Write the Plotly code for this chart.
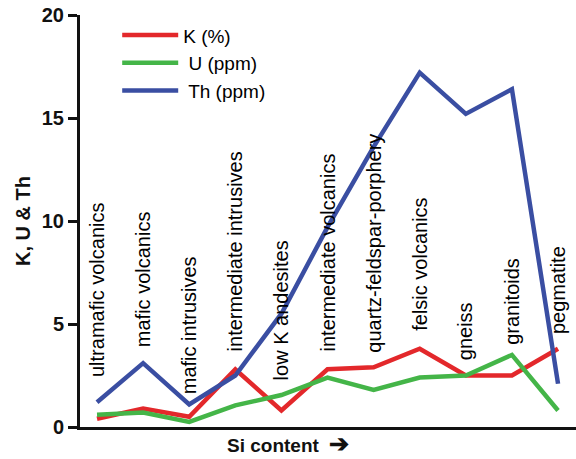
import plotly.graph_objects as go

categories = ["ultramafic volcanics", "mafic volcanics", "mafic intrusives",
              "intermediate intrusives", "low K andesites", "intermediate volcanics",
              "quartz-feldspar-porphery", "felsic volcanics", "gneiss",
              "granitoids", "pegmatite"]
k_pct = [0.4, 0.9, 0.5, 2.8, 0.8, 2.8, 2.9, 3.8, 2.5, 2.5, 3.8]
u_ppm = [0.6, 0.7, 0.25, 1.05, 1.55, 2.4, 1.8, 2.4, 2.5, 3.5, 0.8]
th_ppm = [1.2, 3.1, 1.1, 2.5, 5.5, 9.7, 13.6, 17.2, 15.2, 16.4, 2.1]
y_ticks = [0, 5, 10, 15, 20]

# label placement (centre of rotated label, in data units)
label_mid = [6.65, 7.18, 4.95, 8.54, 5.68, 8.45, 8.93, 7.91, 4.64, 6.12, 6.65]

xs = list(range(len(categories)))
FONT = "Liberation Sans, Arial, sans-serif"

fig = go.Figure()
fig.add_trace(go.Scatter(x=xs, y=k_pct, mode="lines", name="K (%)",
                         line=dict(color="#e3282b", width=4.5)))
fig.add_trace(go.Scatter(x=xs, y=u_ppm, mode="lines", name=" U (ppm)",
                         line=dict(color="#44b548", width=4.5)))
fig.add_trace(go.Scatter(x=xs, y=th_ppm, mode="lines", name=" Th (ppm)",
                         line=dict(color="#3a4ea2", width=4.5)))

for i, c in enumerate(categories):
    fig.add_annotation(x=xs[i], y=label_mid[i], text=c, textangle=-90,
                       showarrow=False, xanchor="center", yanchor="middle",
                       font=dict(family=FONT, size=20, color="#000000"))

fig.add_annotation(x=0.42, xref="paper", y=-0.039, yref="paper",
                   yanchor="middle", xanchor="center",
                   text="<b>Si content</b>  <b><span style='font-size:24px'>➔</span></b>",
                   showarrow=False,
                   font=dict(family=FONT, size=19, color="#111111"))

fig.update_layout(
    width=576, height=459,
    margin=dict(l=80, r=0, t=15, b=32),
    paper_bgcolor="white", plot_bgcolor="white",
    showlegend=True,
    legend=dict(x=0.075, y=0.997, xanchor="left", yanchor="top",
                font=dict(family=FONT, size=19, color="#000000"),
                bgcolor="rgba(0,0,0,0)", itemwidth=56, tracegroupgap=0),
    xaxis=dict(range=[-0.369, 10.39], showgrid=False, zeroline=False,
               showticklabels=False, ticks="", showline=True,
               linecolor="#111111", linewidth=3),
    yaxis=dict(range=[0, 20], tickvals=y_ticks,
               ticktext=[f"<b>{v}</b>" for v in y_ticks],
               showgrid=False, zeroline=False, showline=True,
               linecolor="#111111", linewidth=3, ticks="outside",
               ticklen=9, tickwidth=2.5, tickcolor="#111111",
               tickfont=dict(family=FONT, size=20, color="#111111"),
               title=dict(text="<b>K, U & Th</b>", standoff=6,
                          font=dict(family=FONT, size=20, color="#111111"))),
)

fig.write_html("out.html")
